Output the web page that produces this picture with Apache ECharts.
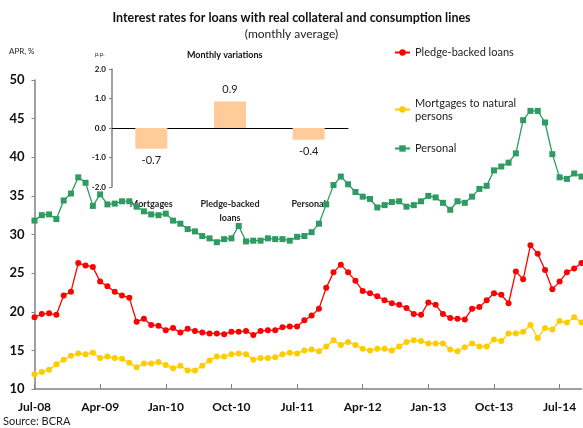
<!DOCTYPE html>
<html>
<head>
<meta charset="utf-8">
<script src="https://cdn.jsdelivr.net/npm/echarts@6/dist/echarts.min.js"></script>
<style>
  html, body { margin: 0; padding: 0; background: #fff; }
  #main { width: 583px; height: 428px; }
</style>
</head>
<body>
<div id="main"></div>
<script>
// monthly, Jul-08 .. Oct-14
const monthNames = ["Jan", "Feb", "Mar", "Apr", "May", "Jun", "Jul", "Aug", "Sep", "Oct", "Nov", "Dec"];
const months = [];
for (let y = 2008, m = 6; months.length < 76; m++) {
  if (m === 12) { m = 0; y++; }
  months.push(monthNames[m] + "-" + String(y).slice(2));
}

const pledgeBacked = [
  19.3, 19.7, 19.8, 19.6, 22.1, 22.6, 26.3, 26.0, 25.8, 23.9,
  23.3, 22.6, 22.1, 21.8, 18.7, 19.1, 18.3, 18.2, 17.6, 17.9,
  17.3, 17.8, 17.5, 17.3, 17.2, 17.2, 17.1, 17.4, 17.4, 17.5,
  17.0, 17.5, 17.6, 17.6, 18.0, 18.1, 18.1, 18.9, 19.5, 20.4,
  23.1, 25.1, 26.1, 25.1, 24.0, 22.7, 22.4, 22.0, 21.5, 21.1,
  20.9, 20.5, 19.7, 19.6, 21.2, 20.9, 19.7, 19.2, 19.1, 19.0,
  20.4, 20.6, 21.5, 22.4, 22.2, 21.1, 25.2, 24.2, 28.6, 27.5,
  25.4, 22.9, 23.9, 25.1, 25.6, 26.3
];
const mortgages = [
  11.9, 12.2, 12.5, 13.2, 13.8, 14.3, 14.6, 14.5, 14.7, 14.0,
  14.2, 14.0, 13.9, 13.4, 12.8, 13.3, 13.3, 13.5, 13.1, 12.7,
  13.0, 12.4, 12.4, 13.0, 13.7, 14.2, 14.2, 14.5, 14.6, 14.5,
  13.8, 14.0, 14.0, 14.1, 14.5, 14.7, 14.6, 15.0, 15.1, 14.9,
  15.5, 16.3, 15.7, 16.1, 15.7, 15.2, 15.0, 15.2, 15.2, 15.0,
  15.5, 16.1, 16.3, 16.2, 15.9, 15.9, 15.9, 15.1, 14.9, 15.4,
  15.9, 15.5, 15.5, 16.4, 16.2, 17.2, 17.2, 17.4, 18.3, 16.6,
  17.9, 17.7, 18.8, 18.6, 19.3, 18.6
];
const personal = [
  31.8, 32.5, 32.6, 32.0, 34.4, 35.3, 37.4, 36.7, 33.7, 35.2,
  33.9, 34.0, 34.3, 34.3, 33.6, 33.0, 32.6, 32.5, 32.7, 31.8,
  31.4, 30.7, 30.4, 29.8, 29.5, 29.0, 29.4, 29.5, 31.1, 29.1,
  29.2, 29.2, 29.5, 29.4, 29.4, 29.2, 29.7, 29.8, 30.3, 31.4,
  33.9, 36.4, 37.5, 36.5, 35.5, 34.9, 34.6, 33.5, 33.8, 34.2,
  34.3, 33.6, 33.8, 34.3, 35.0, 34.8, 34.1, 33.2, 34.3, 34.1,
  34.9, 35.9, 36.3, 38.3, 38.8, 39.3, 40.5, 44.8, 46.0, 46.0,
  44.5, 40.4, 37.4, 37.2, 37.9, 37.5
];

// inset: monthly variations, p.p.
const varCategories = ["Mortgages", "Pledge-backed\nloans", "Personal"];
const varValues = [-0.7, 0.9, -0.4];

const font = "Lato";
const chart = echarts.init(document.getElementById("main"));

const legendText = { fontFamily: font, fontSize: 11, color: "#222" };

chart.setOption({
  animation: false,
  textStyle: { fontFamily: font },
  title: {
    text: "Interest rates for loans with real collateral and consumption lines",
    subtext: "(monthly average)",
    left: "center",
    top: 6,
    itemGap: 4,
    textStyle: { fontFamily: font, fontSize: 12.5, fontWeight: "bold", color: "#111" },
    subtextStyle: { fontFamily: font, fontSize: 12, color: "#222" }
  },
  legend: [
    {
      data: ["Pledge-backed loans"],
      left: 389, top: 42, orient: "vertical",
      itemWidth: 15, itemHeight: 8,
      textStyle: legendText
    },
    {
      data: ["Mortgages to natural persons"],
      left: 389, top: 85, orient: "vertical",
      itemWidth: 15, itemHeight: 8,
      formatter: () => "Mortgages to natural\npersons",
      textStyle: Object.assign({}, legendText, { lineHeight: 13, padding: [13, 0, 0, 0] })
    },
    {
      data: ["Personal"],
      left: 389, top: 138, orient: "vertical",
      itemWidth: 15, itemHeight: 8,
      textStyle: legendText
    }
  ],
  grid: [
    { left: 34.5, right: 1.5, top: 80, bottom: 39 },
    { left: 112, top: 69, width: 236, height: 118 }
  ],
  xAxis: [
    {
      type: "category",
      gridIndex: 0,
      data: months,
      boundaryGap: false,
      axisLine: { lineStyle: { color: "#808080", width: 1.5 } },
      axisTick: { interval: 8, inside: true, length: 5, lineStyle: { color: "#808080" } },
      axisLabel: { interval: 8, margin: 12, fontSize: 12, fontWeight: "bold", color: "#111" }
    },
    {
      type: "category",
      gridIndex: 1,
      data: varCategories,
      position: "top",
      axisLine: { onZero: true, lineStyle: { color: "#000", width: 1 } },
      axisTick: { inside: false, length: 4, lineStyle: { color: "#000" } },
      axisLabel: { show: false }
    },
    {
      type: "category",
      gridIndex: 1,
      data: varCategories,
      position: "bottom",
      axisLine: { show: false, onZero: false },
      axisTick: { show: false },
      axisLabel: { margin: 10, fontSize: 9, fontWeight: "bold", color: "#222", lineHeight: 14 }
    }
  ],
  yAxis: [
    {
      type: "value",
      gridIndex: 0,
      min: 10, max: 50, interval: 5,
      splitLine: { show: false },
      axisLine: { show: true, lineStyle: { color: "#808080", width: 1.5 } },
      axisTick: { show: true, length: 3, lineStyle: { color: "#808080" } },
      axisLabel: { margin: 10, fontSize: 13, fontWeight: "bold", color: "#111" }
    },
    {
      type: "value",
      gridIndex: 1,
      min: -2, max: 2, interval: 1,
      splitLine: { show: false },
      axisLine: { show: true, lineStyle: { color: "#808080", width: 1.5 } },
      axisTick: { show: true, length: 3, lineStyle: { color: "#808080" } },
      axisLabel: { margin: 6, fontSize: 8, fontWeight: "bold", color: "#111", formatter: v => v.toFixed(1) }
    }
  ],
  series: [
    {
      name: "Pledge-backed loans",
      type: "line",
      data: pledgeBacked,
      color: "#FF0000",
      symbol: "circle", symbolSize: 6, showAllSymbol: true,
      lineStyle: { width: 1.3 }
    },
    {
      name: "Mortgages to natural persons",
      type: "line",
      data: mortgages,
      color: "#FFCC00",
      symbol: "circle", symbolSize: 6, showAllSymbol: true,
      lineStyle: { width: 1.3 }
    },
    {
      name: "Personal",
      type: "line",
      data: personal,
      color: "#2E9B62",
      symbol: "rect", symbolSize: 6, showAllSymbol: true,
      lineStyle: { width: 1.3 }
    },
    {
      type: "bar",
      xAxisIndex: 1,
      yAxisIndex: 1,
      barWidth: 32,
      itemStyle: { color: "#FFCC99" },
      data: varValues.map(v => ({
        value: v,
        label: { position: v < 0 ? "bottom" : "top" }
      })),
      label: {
        show: true,
        distance: 6,
        fontSize: 11,
        color: "#222",
        formatter: p => p.value.toFixed(1)
      }
    }
  ],
  graphic: [
    { type: "text", left: 9, top: 47, style: { text: "APR, %", fontFamily: font, fontSize: 8, fill: "#222" } },
    { type: "text", left: 95, top: 51, style: { text: "p.p.", fontFamily: font, fontSize: 6, fill: "#222" } },
    { type: "text", left: 187, top: 51, style: { text: "Monthly variations", fontFamily: font, fontSize: 9, fontWeight: "bold", fill: "#111" } },
    { type: "text", left: 3, top: 416, style: { text: "Source: BCRA", fontFamily: font, fontSize: 11, fill: "#222" } }
  ]
});
</script>
</body>
</html>
